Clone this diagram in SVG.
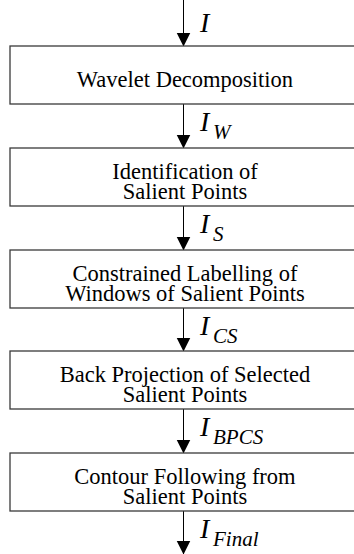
<svg xmlns="http://www.w3.org/2000/svg" width="354" height="554" viewBox="0 0 354 554">
<style>
.box{fill:#fff;stroke:#3a3a3a;stroke-width:1.3}
text{font-family:'Liberation Serif','Times New Roman',Times,'DejaVu Serif',serif}
.t{font-size:22.5px;fill:#000;text-anchor:middle}
.lbl{font-style:italic;font-size:28px;fill:#000}
.sub{font-size:21px}
.c{stroke:#000;stroke-width:1;fill:none;marker-end:url(#ah)}
</style>
<defs>
<marker id="ah" markerUnits="userSpaceOnUse" markerWidth="14" markerHeight="15" refX="13.5" refY="7" orient="auto" viewBox="0 0 14 14">
<path d="M0,0 L14,7 L0,14 Z" fill="#000"/>
</marker>
</defs>
<rect width="354" height="554" fill="#fff"/>
<g id="connectors">
<line class="c" x1="183.5" y1="0" x2="183.5" y2="46"/>
<line class="c" x1="183.5" y1="104" x2="183.5" y2="148"/>
<line class="c" x1="183.5" y1="206" x2="183.5" y2="250"/>
<line class="c" x1="183.5" y1="308" x2="183.5" y2="351"/>
<line class="c" x1="183.5" y1="409" x2="183.5" y2="453"/>
<line class="c" x1="183.5" y1="511" x2="183.5" y2="554"/>
<text class="lbl" x="200" y="32">I</text>
<text class="lbl" x="200" y="131">I<tspan class="sub" x="213" dy="8">W</tspan></text>
<text class="lbl" x="200" y="233">I<tspan class="sub" x="213" dy="8">S</tspan></text>
<text class="lbl" x="200" y="335">I<tspan class="sub" x="213" dy="8">CS</tspan></text>
<text class="lbl" x="200" y="436">I<tspan class="sub" x="213" dy="8">BPCS</tspan></text>
<text class="lbl" x="200" y="538">I<tspan class="sub" x="213" dy="8">Final</tspan></text>
</g>
<g id="n1">
<rect class="box" x="10" y="46" width="360" height="58"/>
<text class="t" x="185" y="87">Wavelet Decomposition</text>
</g>
<g id="n2">
<rect class="box" x="10" y="148" width="360" height="58"/>
<text class="t" x="185" y="178.5">Identification of<tspan x="185" dy="20.5">Salient Points</tspan></text>
</g>
<g id="n3">
<rect class="box" x="10" y="250" width="360" height="58"/>
<text class="t" x="185" y="280.5">Constrained Labelling of<tspan x="185" dy="20.5">Windows of Salient Points</tspan></text>
</g>
<g id="n4">
<rect class="box" x="10" y="351" width="360" height="58"/>
<text class="t" x="185" y="381.5">Back Projection of Selected<tspan x="185" dy="20.5">Salient Points</tspan></text>
</g>
<g id="n5">
<rect class="box" x="10" y="453" width="360" height="58"/>
<text class="t" x="185" y="483.5">Contour Following from<tspan x="185" dy="20.5">Salient Points</tspan></text>
</g>
</svg>
